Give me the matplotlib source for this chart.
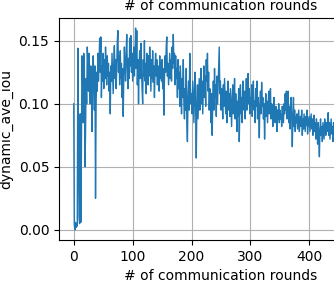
import matplotlib
matplotlib.use("Agg")
import matplotlib.pyplot as plt
import numpy as np

title_text = "# of communication rounds"
xlabel_text = "# of communication rounds"
ylabel_text = "dynamic_ave_iou"
x_ticks = [0, 100, 200, 300, 400]
y_ticks = [0.00, 0.05, 0.10, 0.15]

values_000 = [0.100, 0.004, 0.000, 0.006, 0.002, 0.005, 0.003, 0.144, 0.070, 0.010,
              0.005, 0.092, 0.006, 0.060, 0.138, 0.120, 0.085, 0.140, 0.130, 0.050,
              0.075, 0.120, 0.100, 0.145, 0.132, 0.110, 0.140, 0.125, 0.100, 0.130,
              0.128, 0.078, 0.115, 0.138, 0.122, 0.095, 0.130, 0.025, 0.100, 0.125,
              0.110, 0.140, 0.118, 0.132, 0.152, 0.125, 0.153, 0.105, 0.130, 0.118]
values_050 = [0.140, 0.112, 0.135, 0.120, 0.145, 0.128, 0.115, 0.138, 0.122, 0.132,
              0.110, 0.125, 0.092, 0.130, 0.118, 0.140, 0.124, 0.108, 0.132, 0.146,
              0.120, 0.135, 0.112, 0.128, 0.150, 0.158, 0.125, 0.138, 0.115, 0.142,
              0.120, 0.132, 0.105, 0.128, 0.090, 0.122, 0.145, 0.130, 0.118, 0.140,
              0.155, 0.128, 0.112, 0.136, 0.120, 0.152, 0.130, 0.154, 0.125, 0.140]
values_100 = [0.118, 0.132, 0.145, 0.122, 0.138, 0.160, 0.128, 0.158, 0.115, 0.135,
              0.100, 0.130, 0.142, 0.120, 0.148, 0.128, 0.112, 0.100, 0.135, 0.122,
              0.150, 0.118, 0.132, 0.108, 0.140, 0.125, 0.115, 0.138, 0.122, 0.145,
              0.128, 0.110, 0.135, 0.120, 0.142, 0.117, 0.130, 0.105, 0.128, 0.140,
              0.122, 0.135, 0.115, 0.130, 0.125, 0.110, 0.138, 0.120, 0.132, 0.118]
values_150 = [0.135, 0.112, 0.128, 0.091, 0.120, 0.138, 0.125, 0.145, 0.153, 0.122,
              0.132, 0.115, 0.128, 0.140, 0.120, 0.135, 0.118, 0.145, 0.128, 0.155,
              0.132, 0.140, 0.115, 0.138, 0.120, 0.128, 0.105, 0.135, 0.112, 0.125,
              0.098, 0.130, 0.115, 0.092, 0.120, 0.105, 0.135, 0.100, 0.088, 0.112,
              0.095, 0.128, 0.085, 0.070, 0.108, 0.118, 0.095, 0.140, 0.112, 0.100]
values_200 = [0.108, 0.092, 0.118, 0.100, 0.085, 0.112, 0.125, 0.095, 0.057, 0.098,
              0.115, 0.088, 0.105, 0.120, 0.095, 0.110, 0.128, 0.100, 0.118, 0.092,
              0.112, 0.130, 0.105, 0.122, 0.098, 0.135, 0.118, 0.140, 0.110, 0.125,
              0.095, 0.112, 0.100, 0.085, 0.108, 0.075, 0.102, 0.118, 0.095, 0.128,
              0.105, 0.115, 0.090, 0.122, 0.100, 0.112, 0.130, 0.145, 0.108, 0.118]
values_250 = [0.095, 0.112, 0.102, 0.088, 0.115, 0.098, 0.120, 0.105, 0.092, 0.110,
              0.085, 0.100, 0.118, 0.095, 0.108, 0.090, 0.112, 0.098, 0.082, 0.105,
              0.115, 0.092, 0.100, 0.120, 0.088, 0.108, 0.095, 0.078, 0.102, 0.090,
              0.112, 0.070, 0.098, 0.115, 0.092, 0.105, 0.085, 0.118, 0.100, 0.095,
              0.110, 0.088, 0.102, 0.120, 0.095, 0.108, 0.124, 0.100, 0.112, 0.092]
values_300 = [0.105, 0.098, 0.115, 0.090, 0.108, 0.118, 0.095, 0.102, 0.085, 0.112,
              0.098, 0.118, 0.088, 0.105, 0.095, 0.073, 0.100, 0.110, 0.092, 0.117,
              0.098, 0.105, 0.088, 0.100, 0.072, 0.095, 0.108, 0.090, 0.102, 0.085,
              0.098, 0.110, 0.092, 0.105, 0.112, 0.088, 0.100, 0.095, 0.082, 0.098,
              0.105, 0.090, 0.085, 0.098, 0.092, 0.078, 0.095, 0.088, 0.100, 0.085]
values_350 = [0.095, 0.088, 0.092, 0.082, 0.098, 0.090, 0.085, 0.100, 0.092, 0.108,
              0.095, 0.110, 0.088, 0.102, 0.110, 0.085, 0.098, 0.080, 0.095, 0.105,
              0.090, 0.066, 0.088, 0.105, 0.082, 0.095, 0.078, 0.090, 0.085, 0.092,
              0.080, 0.088, 0.095, 0.078, 0.085, 0.090, 0.082, 0.095, 0.075, 0.088,
              0.080, 0.092, 0.085, 0.078, 0.090, 0.083, 0.095, 0.076, 0.088, 0.082]
values_400 = [0.090, 0.078, 0.085, 0.092, 0.080, 0.088, 0.075, 0.082, 0.091, 0.078,
              0.085, 0.072, 0.088, 0.080, 0.068, 0.085, 0.075, 0.058, 0.080, 0.088,
              0.075, 0.082, 0.070, 0.085, 0.078, 0.072, 0.088, 0.080, 0.075, 0.085,
              0.078, 0.082, 0.093, 0.075, 0.085, 0.072, 0.080, 0.088, 0.076, 0.082,
              0.070, 0.085, 0.078, 0.088, 0.074, 0.082, 0.090, 0.076, 0.084, 0.071]
values_450 = [0.086, 0.079, 0.092, 0.074, 0.083, 0.077, 0.088, 0.072, 0.081, 0.086,
              0.075, 0.090, 0.079, 0.084, 0.070, 0.082, 0.087, 0.076, 0.080, 0.073,
              0.085, 0.078, 0.091, 0.074, 0.082, 0.079, 0.086, 0.071, 0.080, 0.084,
              0.077, 0.088, 0.073, 0.081, 0.085, 0.076, 0.079, 0.083, 0.070, 0.087,
              0.078, 0.082, 0.075, 0.089, 0.080, 0.074, 0.084, 0.078, 0.081, 0.076]

values = (values_000 + values_050 + values_100 + values_150 + values_200 +
          values_250 + values_300 + values_350 + values_400 + values_450)
rounds = list(range(len(values)))

fig = plt.figure(figsize=(3.34, 2.83), dpi=100)
ax = fig.add_axes([59 / 334, 43 / 283, 324 / 334, 222 / 283])
ax.plot(rounds, values, color="#1f77b4", linewidth=1.0)
ax.grid(True, color="#b0b0b0", linewidth=0.8)
ax.set_axisbelow(True)
ax.set_title(title_text, fontsize=10)
ax.set_xlabel(xlabel_text, fontsize=10)
ax.set_ylabel(ylabel_text, fontsize=10)
ax.set_xticks(x_ticks)
ax.set_yticks(y_ticks)
ax.set_xlim(-25, 525)
fig.savefig("out.png", dpi=100)
